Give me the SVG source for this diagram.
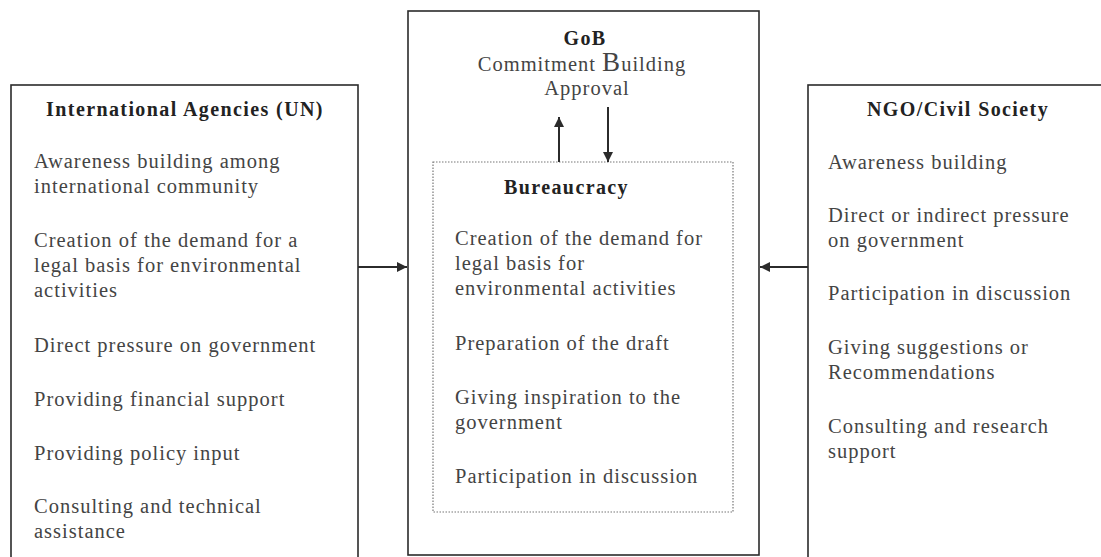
<svg xmlns="http://www.w3.org/2000/svg" width="1101" height="557" viewBox="0 0 1101 557">
<style>
.box{fill:none;stroke:#2b2b2b;stroke-width:1.6}
.dot{fill:none;stroke:#777;stroke-width:1.2;stroke-dasharray:1.5 1.5}
.t{font-family:"Liberation Serif",serif;font-size:20.5px;letter-spacing:1px;fill:#444}
.h{font-family:"Liberation Serif",serif;font-size:20px;letter-spacing:1.4px;font-weight:bold;fill:#222}
.c{text-anchor:middle}
.con{stroke:#2b2b2b;stroke-width:2;fill:none}
</style>
<defs>
<marker id="ah" viewBox="0 0 10 10" refX="10" refY="5" markerWidth="5" markerHeight="5" orient="auto" markerUnits="strokeWidth">
<path d="M0,0 L10,5 L0,10 z" fill="#2b2b2b"/>
</marker>
</defs>
<rect width="1101" height="557" fill="#fff"/>
<g id="intl">
<rect class="box" x="11" y="85" width="347" height="480"/>
<text class="h c" x="185" y="116">International Agencies (UN)</text>
<text class="t" x="34" y="168">Awareness building among</text>
<text class="t" x="34" y="193">international community</text>
<text class="t" x="34" y="247">Creation of the demand for a</text>
<text class="t" x="34" y="272">legal basis for environmental</text>
<text class="t" x="34" y="297">activities</text>
<text class="t" x="34" y="352">Direct pressure on government</text>
<text class="t" x="34" y="406">Providing financial support</text>
<text class="t" x="34" y="460">Providing policy input</text>
<text class="t" x="34" y="513">Consulting and technical</text>
<text class="t" x="34" y="538">assistance</text>
</g>
<g id="gob">
<rect class="box" x="408" y="11" width="351" height="544"/>
<text class="h c" x="585" y="45">GoB</text>
<text class="t c" x="582" y="71">Commitment <tspan font-size="27px">B</tspan>uilding</text>
<text class="t c" x="587" y="95">Approval</text>
</g>
<g id="bureaucracy">
<rect class="dot" x="433" y="162" width="300" height="350"/>
<text class="h" x="504" y="194">Bureaucracy</text>
<text class="t" x="455" y="245">Creation of the demand for</text>
<text class="t" x="455" y="270">legal basis for</text>
<text class="t" x="455" y="295">environmental activities</text>
<text class="t" x="455" y="350">Preparation of the draft</text>
<text class="t" x="455" y="404">Giving inspiration to the</text>
<text class="t" x="455" y="429">government</text>
<text class="t" x="455" y="483">Participation in discussion</text>
</g>
<g id="ngo">
<rect class="box" x="808" y="85" width="320" height="500"/>
<text class="h c" x="958" y="116">NGO/Civil Society</text>
<text class="t" x="828" y="169">Awareness building</text>
<text class="t" x="828" y="222">Direct or indirect pressure</text>
<text class="t" x="828" y="247">on government</text>
<text class="t" x="828" y="300">Participation in discussion</text>
<text class="t" x="828" y="354">Giving suggestions or</text>
<text class="t" x="828" y="379">Recommendations</text>
<text class="t" x="828" y="433">Consulting and research</text>
<text class="t" x="828" y="458">support</text>
</g>
<g id="connectors">
<line class="con" x1="358" y1="267" x2="407" y2="267" marker-end="url(#ah)"/>
<line class="con" x1="808" y1="267" x2="760" y2="267" marker-end="url(#ah)"/>
<line class="con" x1="559" y1="162" x2="559" y2="117" marker-end="url(#ah)"/>
<line class="con" x1="608" y1="107" x2="608" y2="162" marker-end="url(#ah)"/>
</g>
</svg>
